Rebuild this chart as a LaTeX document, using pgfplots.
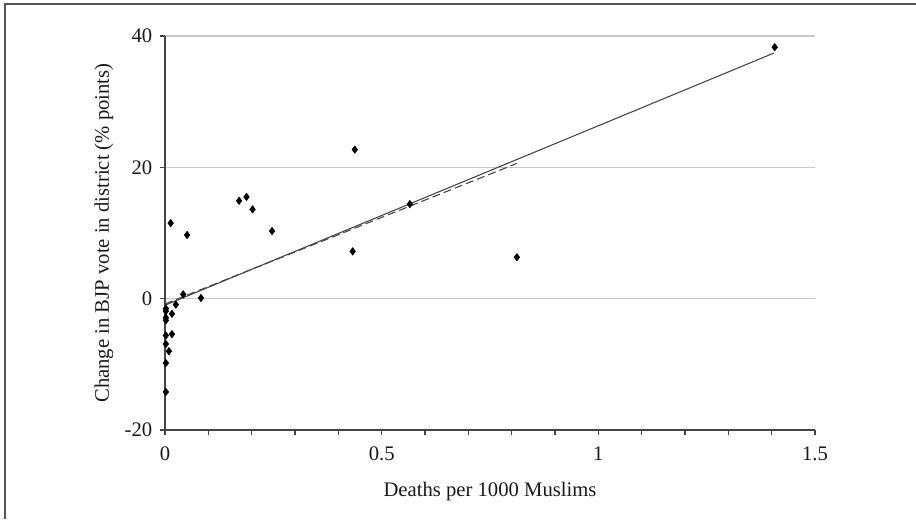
\documentclass[border=0pt]{standalone}
\usepackage{fontspec}
\setmainfont{Liberation Serif}
\usepackage{pgfplots}
\pgfplotsset{compat=1.18}
\definecolor{axisgray}{HTML}{444444}
\definecolor{gridgray}{HTML}{C8C8C8}
\definecolor{framegray}{HTML}{555555}
\begin{document}
\begin{tikzpicture}
\useasboundingbox (0,0) rectangle (687pt,389.25pt);
\draw[line width=1.5pt, framegray] (4pt,0) -- (4pt,386.25pt) -- (687pt,386.25pt);
\begin{axis}[
  at={(123.75pt,66.75pt)}, anchor=south west,
  scale only axis, width=487.5pt, height=295.5pt,
  xmin=0, xmax=1.5, ymin=-20, ymax=40,
  axis lines*=left,
  axis line style={axisgray, line width=0.8pt},
  tick align=outside,
  tick style={axisgray, line width=0.8pt},
  major tick length=4pt, minor tick length=4pt,
  xtick={0,0.5,1,1.5}, xticklabels={0,0.5,1,1.5},
  minor xtick={0.1,0.2,0.3,0.4,0.6,0.7,0.8,0.9,1.1,1.2,1.3,1.4},
  ytick={-20,0,20,40}, yticklabels={-20,0,20,40},
  ymajorgrids, grid style={gridgray, line width=0.8pt},
  ticklabel style={font=\fontsize{15.5}{17}\selectfont, text=black!90},
  xticklabel style={yshift=-5pt},
  yticklabel style={xshift=-2pt},
  label style={font=\fontsize{15.5}{17}\selectfont, text=black!90},
  xlabel={Deaths per 1000 Muslims},
  ylabel={Change in BJP vote in district (\% points)},
  xlabel style={at={(axis description cs:0.5,-0.157)}, anchor=center},
  ylabel style={at={(axis description cs:-0.094,0.5)}, anchor=center},
  clip=false,
]
\addplot[only marks, mark=diamond*, mark size=2.8pt, black] coordinates {
(0.013,11.5) (0.051,9.7) (0.042,0.65) (0.083,0.1) (0.025,-0.9)
(0.002,-1.5) (0.002,-1.9) (0.002,-2.9) (0.002,-3.3) (0.016,-2.3)
(0.002,-5.6) (0.016,-5.4) (0.002,-6.9) (0.009,-8.0) (0.002,-9.8)
(0.002,-14.2) (0.171,14.9) (0.188,15.5) (0.202,13.6) (0.247,10.3)
(0.438,22.7) (0.433,7.2) (0.565,14.4) (0.812,6.3) (1.407,38.3)
};
\addplot[axisgray, line width=0.8pt] coordinates {(0,-1) (1.405,37.4)};
\addplot[axisgray, line width=0.8pt, dash pattern=on 6pt off 3pt] coordinates {(0,-0.8) (0.812,20.6)};
\end{axis}
\end{tikzpicture}
\end{document}
